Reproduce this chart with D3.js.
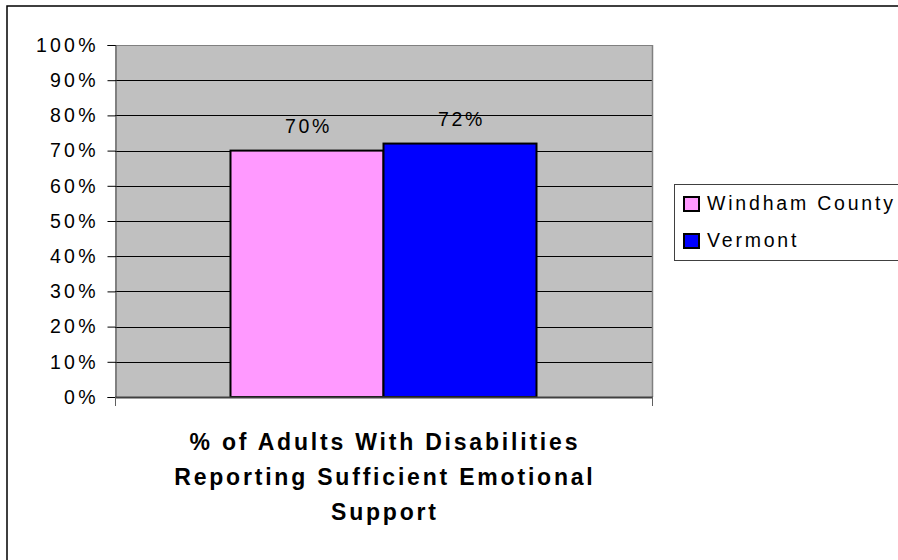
<!DOCTYPE html>
<html><head><meta charset="utf-8">
<script src="https://cdn.jsdelivr.net/npm/d3@7"></script>
<style>
body{margin:0;background:#fff;}
text{font-family:"Liberation Sans",Arial,sans-serif;}
</style></head>
<body><svg id="c" width="898" height="560"></svg>
<script>
const categories = ["% of Adults With Disabilities Reporting Sufficient Emotional Support"];
const seriesNames = ["Windham County", "Vermont"];
const seriesValues = [[0.70], [0.72]];
const seriesColors = ["#FF99FF", "#0000FF"];
const valueLabels = [["70%"], ["72%"]];
const yTicks = [0, 0.1, 0.2, 0.3, 0.4, 0.5, 0.6, 0.7, 0.8, 0.9, 1.0];
const titleLines = ["% of Adults With Disabilities", "Reporting Sufficient Emotional", "Support"];

const svg = d3.select("#c");
const L = 115, R = 652, T = 45, B = 397;
const LS = 3.2, FS = 19.5;

// outer border
svg.append("rect").attr("x", 7).attr("y", 6).attr("width", 900).attr("height", 570)
  .attr("fill", "#fff").attr("stroke", "#000").attr("stroke-width", 1.5);

const y = d3.scaleLinear().domain([0, 1]).range([B, T]);
const x0 = d3.scaleBand().domain(categories).range([L, R]).paddingInner(0.274).paddingOuter(0.274);
const x1 = d3.scaleBand().domain(seriesNames).range([0, x0.bandwidth()]);

// plot background
svg.append("rect").attr("x", L).attr("y", T).attr("width", R - L).attr("height", B - T).attr("fill", "#C0C0C0");

// gridlines
svg.append("g").selectAll("line").data(yTicks.filter(d => d > 0)).join("line")
  .attr("x1", L).attr("x2", R).attr("y1", d => Math.round(y(d)) + 0.5).attr("y2", d => Math.round(y(d)) + 0.5)
  .attr("stroke", d => d === 1 ? "#808080" : "#000").attr("stroke-width", 1);

// right border of plot
svg.append("line").attr("x1", R + 0.5).attr("x2", R + 0.5).attr("y1", T).attr("y2", B).attr("stroke", "#808080").attr("stroke-width", 1.5);

// y axis
const yAxis = d3.axisLeft(y).tickValues(yTicks).tickSize(8).tickPadding(13).tickFormat(d3.format(".0%"));
const ga = svg.append("g").attr("transform", `translate(${L + 0.5},0)`).call(yAxis);
ga.select(".domain").attr("stroke", "#404040").attr("stroke-width", 1);
ga.selectAll(".tick line").attr("stroke", "#000");
ga.selectAll(".tick text").attr("font-size", FS).attr("fill", "#000").attr("letter-spacing", LS)
  .attr("font-family", "Liberation Sans, Arial, sans-serif").attr("dy", "0.32em").attr("dx", LS + 1);

// bars
const groups = svg.append("g").selectAll("g").data(seriesNames).join("g");
groups.each(function(s, si) {
  const g = d3.select(this);
  categories.forEach((c, ci) => {
    const v = seriesValues[si][ci];
    g.append("rect").attr("x", x0(c) + x1(s)).attr("y", y(v)).attr("width", x1.bandwidth()).attr("height", B - y(v))
      .attr("fill", seriesColors[si]).attr("stroke", "#000").attr("stroke-width", 2);
    g.append("text").attr("x", x0(c) + x1(s) + x1.bandwidth() / 2 + LS / 2).attr("y", y(v) - 18)
      .attr("text-anchor", "middle").attr("font-size", FS).attr("letter-spacing", LS - 0.5).attr("fill", "#000")
      .text(valueLabels[si][ci]);
  });
});

// x axis line and edge ticks
svg.append("line").attr("x1", L).attr("x2", R + 1).attr("y1", B + 0.5).attr("y2", B + 0.5).attr("stroke", "#404040").attr("stroke-width", 2);
svg.append("g").selectAll("line").data([L + 0.5, R + 0.5]).join("line")
  .attr("x1", d => d).attr("x2", d => d).attr("y1", B).attr("y2", B + 9).attr("stroke", "#606060").attr("stroke-width", 1);

// category title
const cx = x0(categories[0]) + x0.bandwidth() / 2;
svg.append("g").selectAll("text").data(titleLines).join("text")
  .attr("x", cx + 1.4).attr("y", (d, i) => 450 + i * 35).attr("text-anchor", "middle")
  .attr("font-size", 23).attr("font-weight", "bold").attr("letter-spacing", 2.8).attr("fill", "#000").text(d => d);

// legend
const lg = svg.append("g");
lg.append("rect").attr("x", 674.5).attr("y", 184.5).attr("width", 260).attr("height", 76)
  .attr("fill", "#fff").attr("stroke", "#404040").attr("stroke-width", 1);
seriesNames.forEach((s, i) => {
  const yy = 197 + i * 37;
  lg.append("rect").attr("x", 684).attr("y", yy).attr("width", 15).attr("height", 14)
    .attr("fill", seriesColors[i]).attr("stroke", "#000").attr("stroke-width", 2);
  lg.append("text").attr("x", 707).attr("y", yy + 13).attr("font-size", FS).attr("letter-spacing", 2.8)
    .attr("fill", "#000").text(s);
});
</script></body></html>
